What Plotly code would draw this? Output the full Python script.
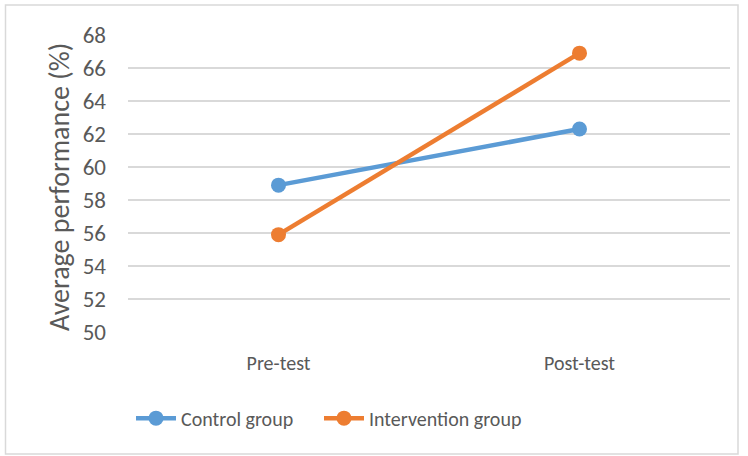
import plotly.graph_objects as go

# Average performance by group, before and after the intervention
phases = ["Pre-test", "Post-test"]
control_group = [58.9, 62.3]
intervention_group = [55.9, 66.9]
y_ticks = [50, 52, 54, 56, 58, 60, 62, 64, 66, 68]

FONT = "Calibri, Carlito, 'Liberation Sans', Arial, sans-serif"
TEXT = "#595959"
GRID = "#d9d9d9"

fig = go.Figure()
fig.add_trace(go.Scatter(
    x=phases, y=control_group, name="Control group", mode="lines+markers",
    line=dict(color="#5B9BD5", width=4.5),
    marker=dict(color="#5B9BD5", size=15),
    legend="legend",
))
fig.add_trace(go.Scatter(
    x=phases, y=intervention_group, name="Intervention group", mode="lines+markers",
    line=dict(color="#ED7D31", width=4.5),
    marker=dict(color="#ED7D31", size=15),
    legend="legend2",
))

legend_style = dict(
    orientation="h", y=-0.29, xanchor="left", yanchor="middle",
    font=dict(size=20, color=TEXT), itemwidth=40,
    bgcolor="rgba(0,0,0,0)",
)

fig.update_layout(
    width=748, height=456,
    margin=dict(l=128, r=18, t=35, b=124),
    paper_bgcolor="white", plot_bgcolor="white",
    font=dict(family=FONT, color=TEXT, size=20),
    showlegend=True,
    legend=dict(x=0.005, **legend_style),
    legend2=dict(x=(319 - 128) / 602, **legend_style),
    xaxis=dict(
        showgrid=False, zeroline=False, showline=False,
        tickfont=dict(size=20, color=TEXT), ticklabelstandoff=17,
        range=[-0.5, 1.5],
    ),
    yaxis=dict(
        range=[50, 68], tickvals=y_ticks, showgrid=True, gridcolor=GRID,
        gridwidth=1.5, zeroline=False, showline=False,
        tickfont=dict(size=23, color=TEXT), ticklabelstandoff=21,
    ),
    annotations=[dict(
        text="Average performance (%)", textangle=-90,
        xref="paper", yref="paper", x=(59 - 128) / 602, y=(332 - 187) / 297,
        xanchor="center", yanchor="middle", showarrow=False,
        font=dict(size=28, color=TEXT),
    )],
    shapes=[dict(
        type="rect", xref="paper", yref="paper",
        x0=(5.5 - 128) / 602, x1=(738 - 128) / 602,
        y0=(332 - 454) / 297, y1=(332 - 5) / 297,
        line=dict(color=GRID, width=1.5), fillcolor="rgba(0,0,0,0)", layer="below",
    )],
)

fig.write_html("out.html")
